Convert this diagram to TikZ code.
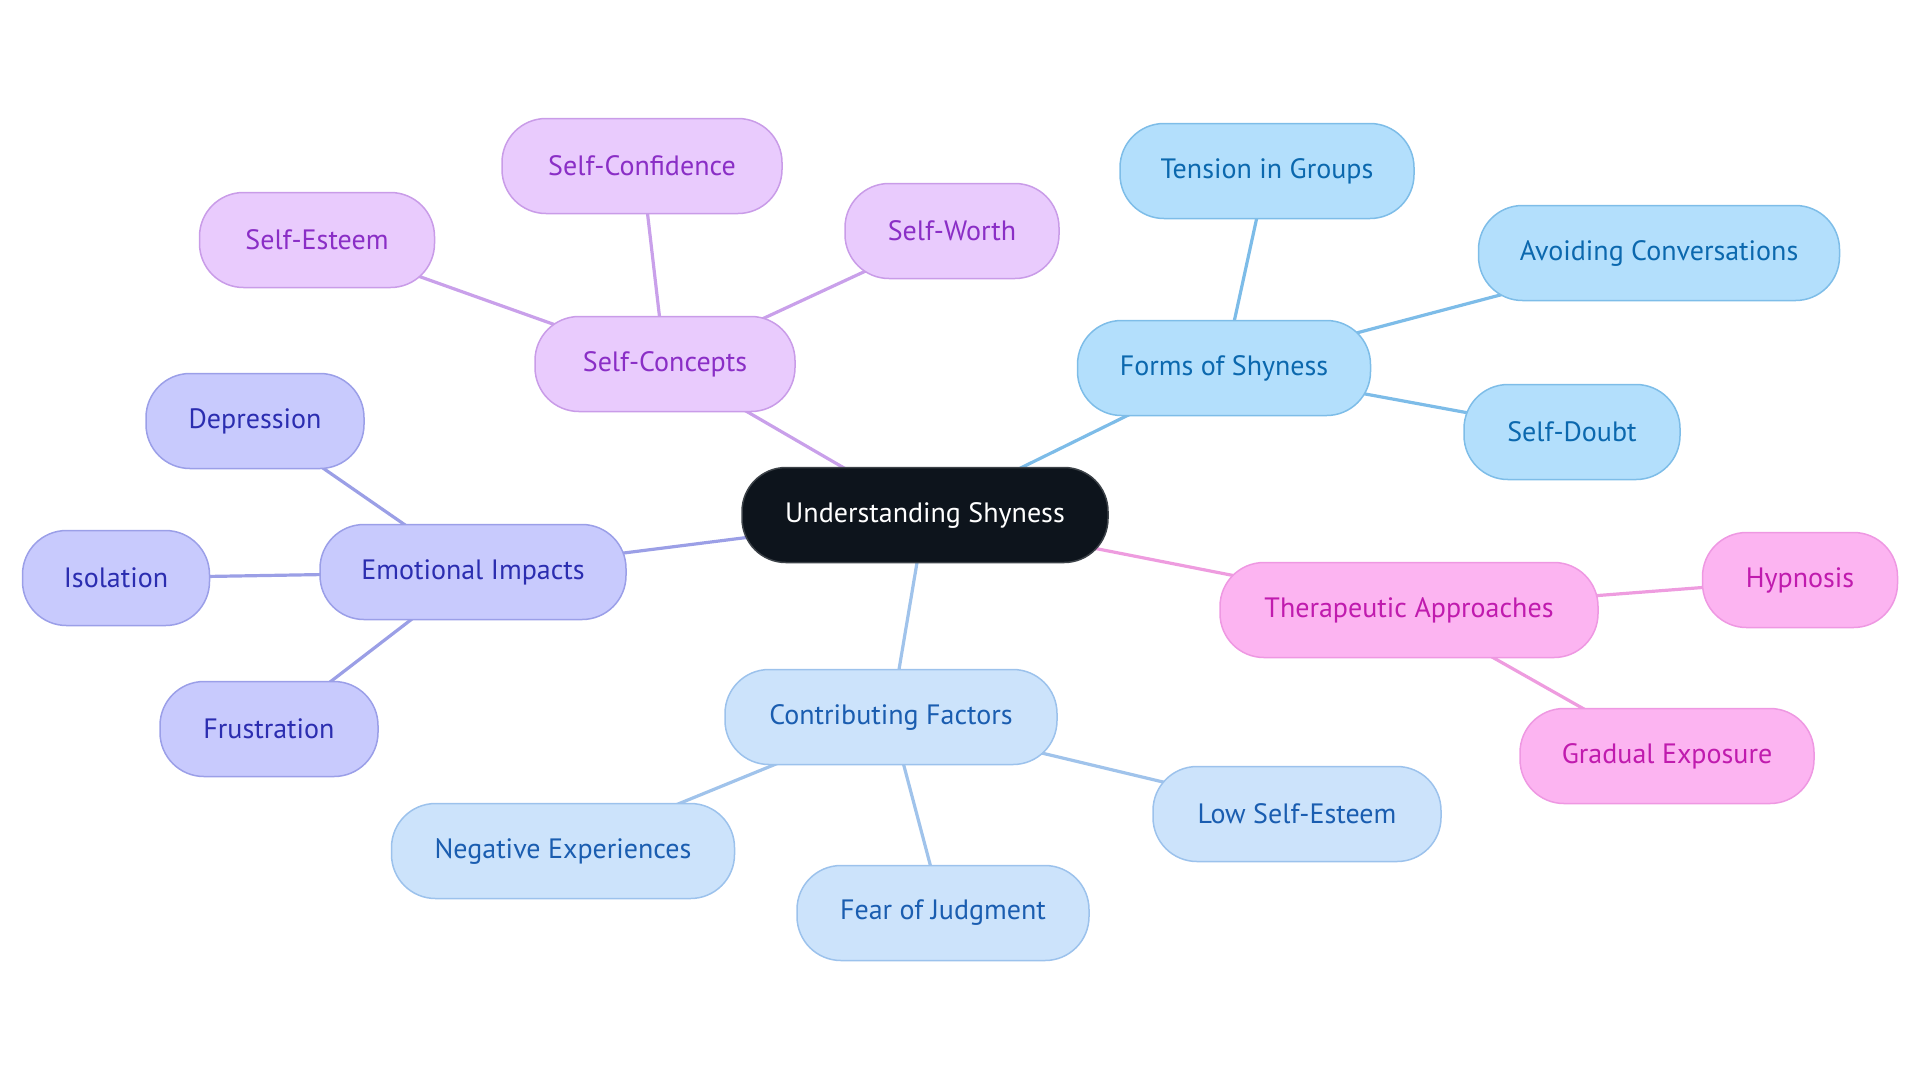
\documentclass[tikz,border=0pt]{standalone}
\usepackage{fontspec}
\setmainfont{PT Sans}
\pgfdeclarelayer{bg}
\pgfsetlayers{bg,main}
\definecolor{rootfill}{HTML}{0D141C}
\definecolor{rootdraw}{HTML}{3C4248}
\definecolor{pufill}{HTML}{E9CBFD}
\definecolor{pudraw}{HTML}{C99CE8}
\definecolor{putext}{HTML}{8A2EC6}
\definecolor{puedge}{HTML}{C9A0EA}
\definecolor{blfill}{HTML}{B3DFFC}
\definecolor{bldraw}{HTML}{7EBDE8}
\definecolor{bltext}{HTML}{0B68AE}
\definecolor{bledge}{HTML}{7DBCE8}
\definecolor{lbfill}{HTML}{CCE3FB}
\definecolor{lbdraw}{HTML}{9CC2EC}
\definecolor{lbtext}{HTML}{1A5DB0}
\definecolor{lbedge}{HTML}{A0C3EB}
\definecolor{pkfill}{HTML}{FCB4F1}
\definecolor{pkdraw}{HTML}{EE98E2}
\definecolor{pktext}{HTML}{C01BAE}
\definecolor{pkedge}{HTML}{EE9CDF}
\definecolor{lvfill}{HTML}{C8CAFD}
\definecolor{lvdraw}{HTML}{9B9FE8}
\definecolor{lvtext}{HTML}{2B2DB0}
\definecolor{lvedge}{HTML}{9B9FE6}
\tikzset{
  box/.style={rectangle, rounded corners=22pt, minimum height=47.5pt, inner sep=0pt, line width=0.75pt, font=\fontsize{14}{16}\selectfont},
  rootbox/.style={box, fill=rootfill, draw=rootdraw, text=white},
  pubox/.style={box, fill=pufill, draw=pudraw, text=putext},
  blbox/.style={box, fill=blfill, draw=bldraw, text=bltext},
  lbbox/.style={box, fill=lbfill, draw=lbdraw, text=lbtext},
  pkbox/.style={box, fill=pkfill, draw=pkdraw, text=pktext},
  lvbox/.style={box, fill=lvfill, draw=lvdraw, text=lvtext},
  link/.style={line width=1.6pt}
}
\begin{document}
\begin{tikzpicture}[x=0.5pt,y=-0.5pt]
\useasboundingbox (0,0) rectangle (1920,1083);
% root
\node[rootbox, minimum width=183pt] (root) at (925,515) {Understanding Shyness};
% self-concepts
\node[pubox, minimum width=130pt] (sc) at (665,364) {Self-Concepts};
\node[pubox, minimum width=140pt] (sconf) at (642,166) {Self-Confidence};
\node[pubox, minimum width=107pt] (sw) at (952,231) {Self-Worth};
\node[pubox, minimum width=117.5pt] (se) at (317,240) {Self-Esteem};
% forms
\node[blbox, minimum width=146.5pt] (forms) at (1224,368) {Forms of Shyness};
\node[blbox, minimum width=147pt] (tension) at (1267,171) {Tension in Groups};
\node[blbox, minimum width=180.5pt] (avoid) at (1659,253) {Avoiding Conversations};
\node[blbox, minimum width=108pt] (doubt) at (1572,432) {Self-Doubt};
% therapeutic
\node[pkbox, minimum width=189pt] (ther) at (1409,610) {Therapeutic Approaches};
\node[pkbox, minimum width=97.5pt] (hyp) at (1800,580) {Hypnosis};
\node[pkbox, minimum width=147pt] (grad) at (1667,756) {Gradual Exposure};
% contributing
\node[lbbox, minimum width=166pt] (contrib) at (891,717) {Contributing Factors};
\node[lbbox, minimum width=171.5pt] (neg) at (563,851) {Negative Experiences};
\node[lbbox, minimum width=146pt] (fear) at (943,913) {Fear of Judgment};
\node[lbbox, minimum width=144pt] (low) at (1297,814) {Low Self-Esteem};
% emotional
\node[lvbox, minimum width=153pt] (emo) at (473,572) {Emotional Impacts};
\node[lvbox, minimum width=109pt] (dep) at (255,421) {Depression};
\node[lvbox, minimum width=93.5pt] (iso) at (116,578) {Isolation};
\node[lvbox, minimum width=109pt] (fru) at (269,729) {Frustration};
\begin{pgfonlayer}{bg}
\draw[link, puedge] (root.center) -- (sc.center);
\draw[link, puedge] (sc.center) -- (sconf.center);
\draw[link, puedge] (sc.center) -- (sw.center);
\draw[link, puedge] (sc.center) -- (se.center);
\draw[link, bledge] (root.center) -- (forms.center);
\draw[link, bledge] (forms.center) -- (tension.center);
\draw[link, bledge] (forms.center) -- (avoid.center);
\draw[link, bledge] (forms.center) -- (doubt.center);
\draw[link, pkedge] (root.center) -- (ther.center);
\draw[link, pkedge] (ther.center) -- (hyp.center);
\draw[link, pkedge] (ther.center) -- (grad.center);
\draw[link, lbedge] (root.center) -- (contrib.center);
\draw[link, lbedge] (contrib.center) -- (neg.center);
\draw[link, lbedge] (contrib.center) -- (fear.center);
\draw[link, lbedge] (contrib.center) -- (low.center);
\draw[link, lvedge] (root.center) -- (emo.center);
\draw[link, lvedge] (emo.center) -- (dep.center);
\draw[link, lvedge] (emo.center) -- (iso.center);
\draw[link, lvedge] (emo.center) -- (fru.center);
\end{pgfonlayer}
\end{tikzpicture}
\end{document}
